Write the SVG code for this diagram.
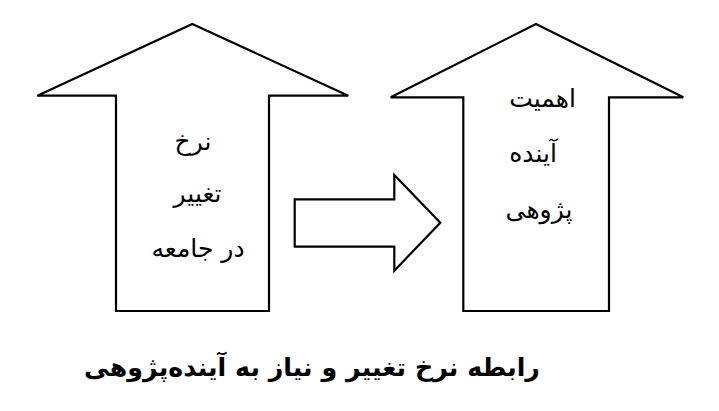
<svg xmlns="http://www.w3.org/2000/svg" width="719" height="411" viewBox="0 0 719 411">
<style>
.shape{fill:#fff;stroke:#000;stroke-width:2.2;stroke-linejoin:miter}
.lbl{font-family:"DejaVu Sans","Noto Sans",sans-serif;font-size:25px;fill:#000;text-anchor:middle;direction:rtl}
.title{font-family:"DejaVu Sans","Noto Sans",sans-serif;font-size:25.3px;font-weight:bold;fill:#000;text-anchor:middle;direction:rtl}
</style>
<rect width="719" height="411" fill="#fff"/>
<g id="left-arrow">
<polygon class="shape" points="192.3,24 348.3,95.7 269,95.7 269,311 116,311 116,95.7 37.3,95.7"/>
<text class="lbl" x="193" y="150">نرخ</text>
<text class="lbl" x="197.5" y="202">تغییر</text>
<text class="lbl" x="198" y="257">در جامعه</text>
</g>
<g id="connectors">
<polygon class="shape" points="294.7,199.3 394.3,199.3 394.3,175 440.3,222.7 394.3,270.7 394.3,246.7 294.7,246.7"/>
</g>
<g id="right-arrow">
<polygon class="shape" points="536,24 683.3,97.3 609,97.3 609,311 463.3,311 463.3,97.3 390.7,97.3"/>
<text class="lbl" x="542.5" y="107">اهمیت</text>
<text class="lbl" x="533" y="162">آینده</text>
<text class="lbl" x="539" y="218">پژوهی</text>
</g>
<text class="title" x="312" y="376">رابطه نرخ تغییر و نیاز به آینده‌پژوهی</text>
</svg>
